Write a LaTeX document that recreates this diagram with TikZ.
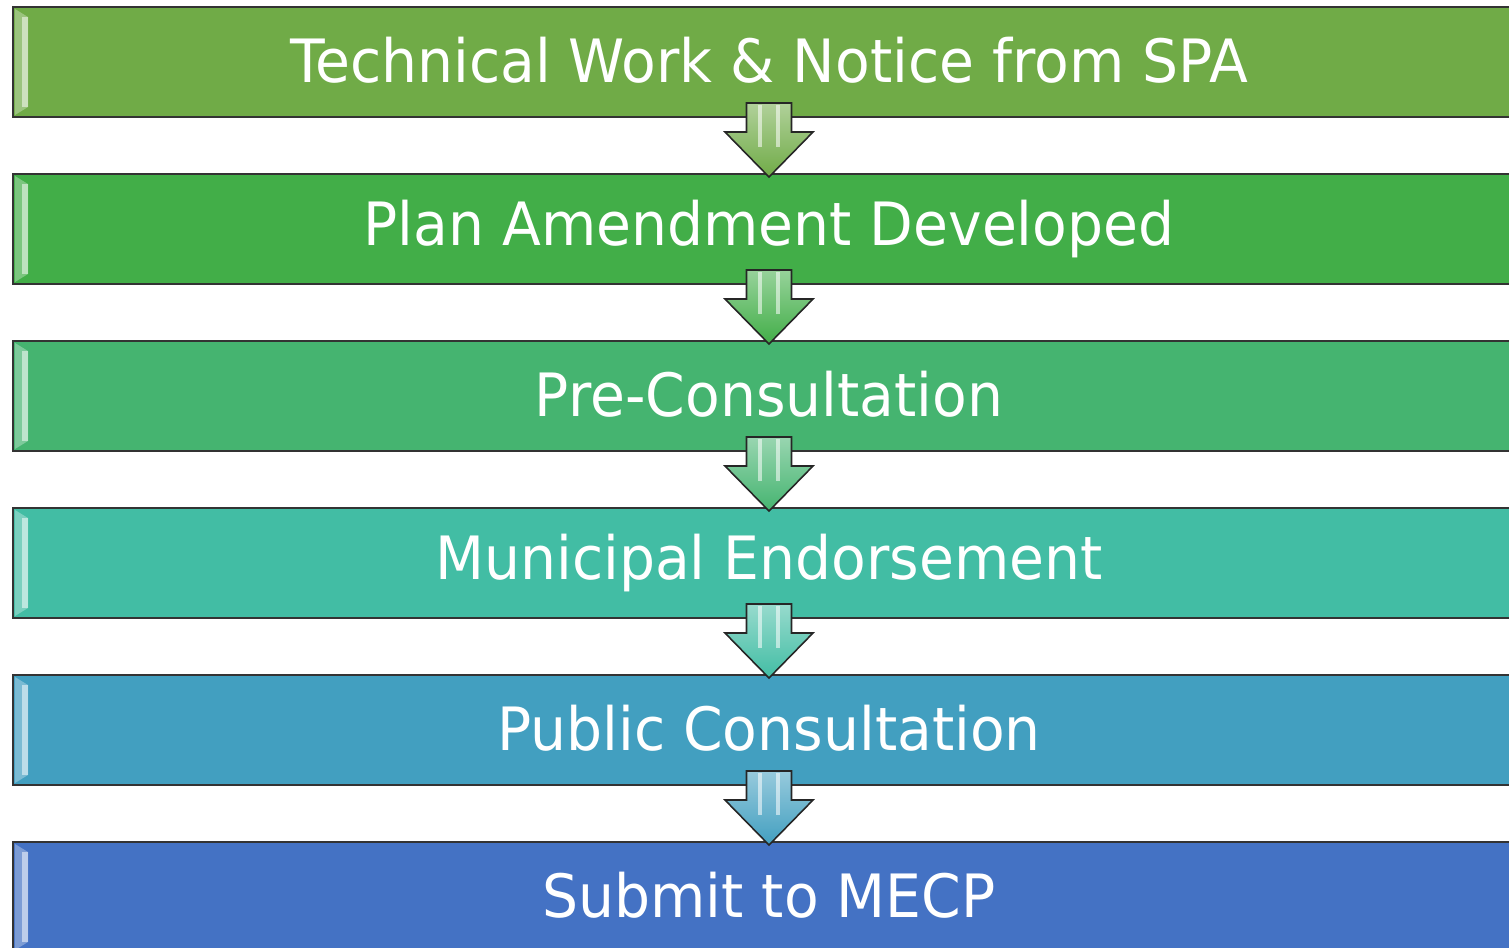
\documentclass[tikz,border=0pt]{standalone}
\usepackage{fontspec}
\setmainfont{DejaVu Sans}[FakeStretch=0.95]
\usetikzlibrary{positioning,calc}

\definecolor{stepA}{RGB}{112,171,71}
\definecolor{stepB}{RGB}{66,174,72}
\definecolor{stepC}{RGB}{69,180,112}
\definecolor{stepD}{RGB}{66,189,164}
\definecolor{stepE}{RGB}{66,159,192}
\definecolor{stepF}{RGB}{68,114,196}

\begin{document}
\begin{tikzpicture}[
	stepbox/.style={draw=black!80,line width=1.1pt,fill=#1,minimum width=30.24cm,minimum height=2.2cm,
		inner sep=0pt,outer sep=0pt,text=white,font=\fontsize{34pt}{40pt}\selectfont},
	flowarrow/.style={draw=black!85,line width=0.9pt,top color=#1!55!white,bottom color=#1},
	node distance=1.14cm]
	\useasboundingbox (0,0) rectangle (30.18,-18.96);
	\clip (0,0) rectangle (30.18,-18.96);

	\node[stepbox=stepA] (b1) at (15.38,-1.24) {\raisebox{2pt}{Technical Work \& Notice from SPA}};
	\node[stepbox=stepB,below=of b1] (b2) {\raisebox{2pt}{Plan Amendment Developed}};
	\node[stepbox=stepC,below=of b2] (b3) {\raisebox{2pt}{Pre-Consultation}};
	\node[stepbox=stepD,below=of b3] (b4) {\raisebox{2pt}{Municipal Endorsement}};
	\node[stepbox=stepE,below=of b4] (b5) {\raisebox{2pt}{Public Consultation}};
	\node[stepbox=stepF,below=of b5] (b6) {\raisebox{2pt}{Submit to MECP}};

	% bevel on the left side of each box
	\foreach \i in {1,...,6}{
		\fill[white,opacity=0.3] ($(b\i.north west)+(0.04,-0.04)$) -- ($(b\i.north west)+(0.3,-0.2)$)
			-- ($(b\i.south west)+(0.3,0.2)$) -- ($(b\i.south west)+(0.04,0.04)$) -- cycle;
		\fill[white,opacity=0.5] ($(b\i.north west)+(0.18,-0.2)$) rectangle ($(b\i.south west)+(0.3,0.2)$);
	}

	% down arrows between the boxes
	\foreach \i/\j/\c in {1/2/stepA,2/3/stepB,3/4/stepC,4/5/stepD,5/6/stepE}{
		\draw[flowarrow=\c] ($(b\i.south)+(-0.45,0.28)$) -- ($(b\i.south)+(-0.45,-0.30)$)
			-- ($(b\i.south)+(-0.88,-0.30)$) -- ($(b\j.north)+(0,-0.06)$)
			-- ($(b\i.south)+(0.88,-0.30)$) -- ($(b\i.south)+(0.45,-0.30)$)
			-- ($(b\i.south)+(0.45,0.28)$) -- cycle;
		\draw[white,opacity=0.55,line width=2.5pt] ($(b\i.south)+(-0.18,0.24)$) -- ($(b\i.south)+(-0.18,-0.6)$);
		\draw[white,opacity=0.55,line width=2.5pt] ($(b\i.south)+(0.18,0.24)$) -- ($(b\i.south)+(0.18,-0.6)$);
	}
\end{tikzpicture}
\end{document}
